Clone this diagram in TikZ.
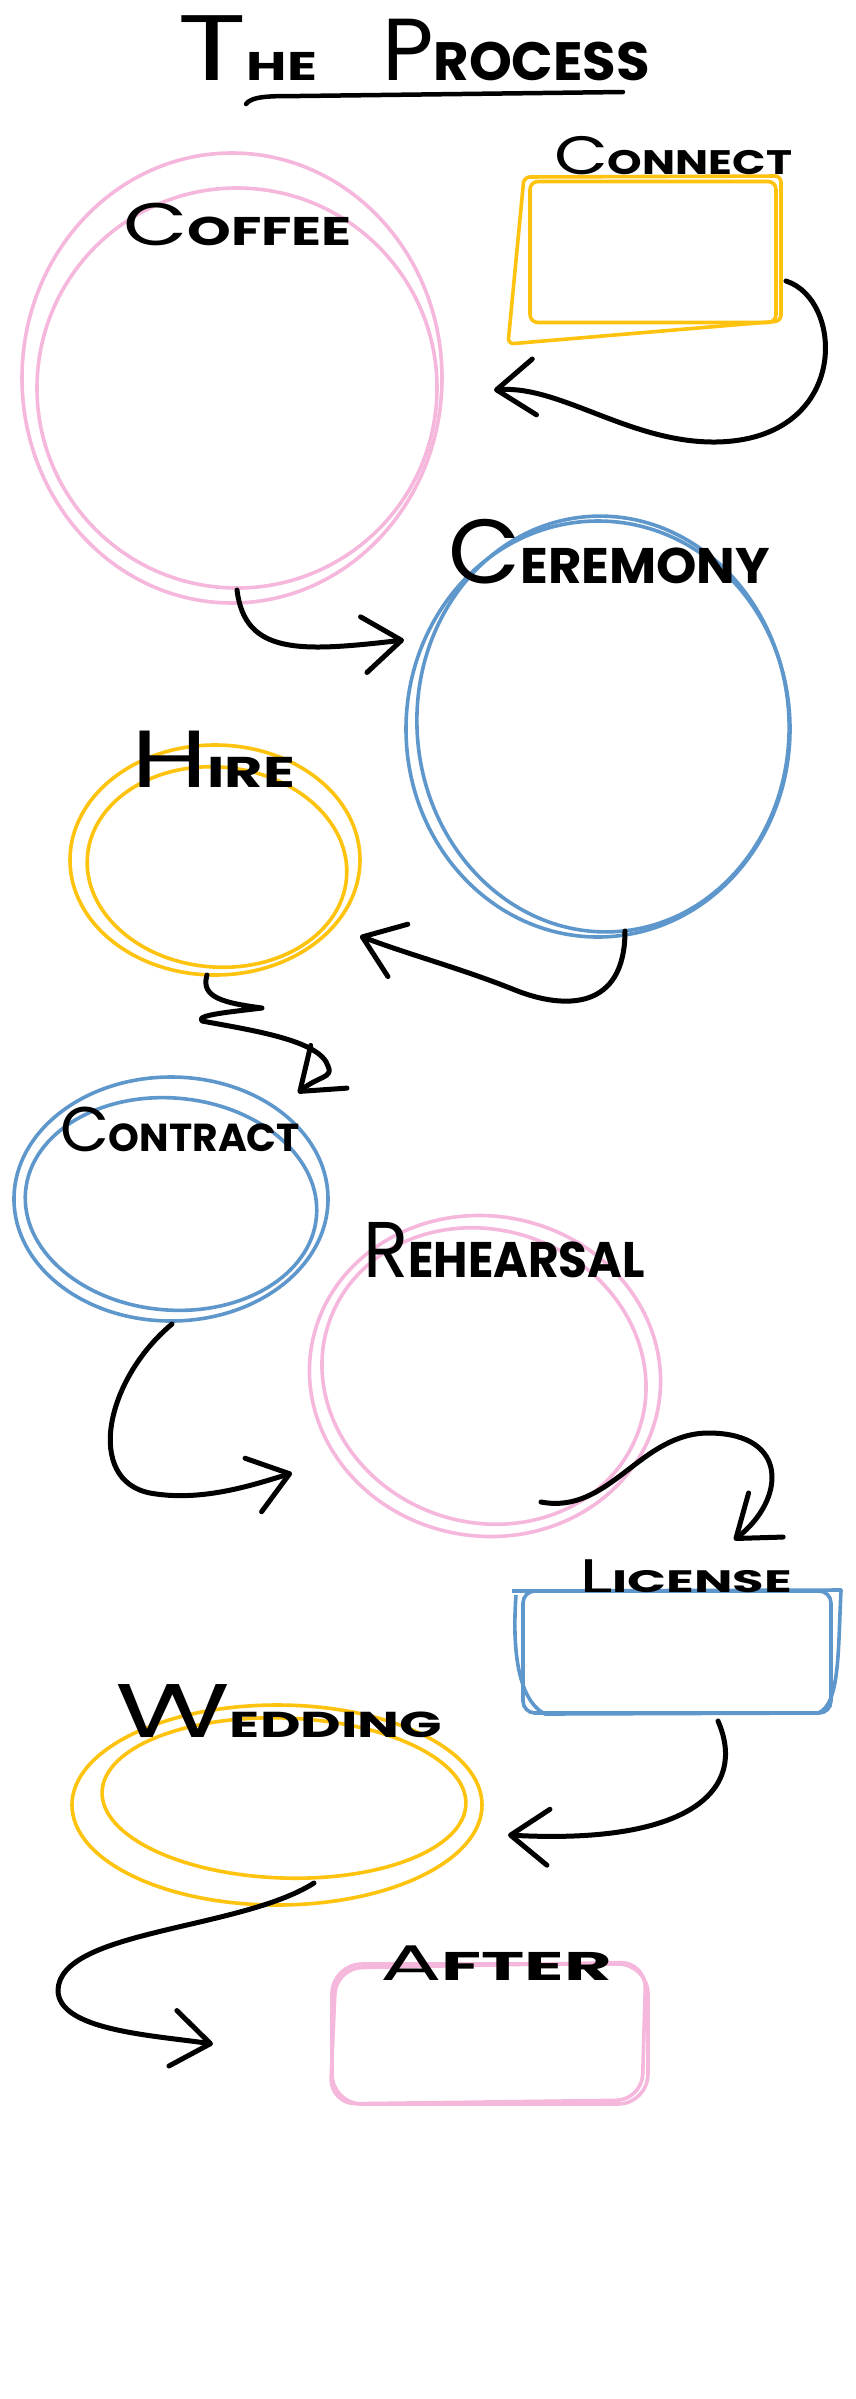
\documentclass[tikz,border=0pt]{standalone}
\usepackage{graphicx}
\usepackage{fontspec}
\setmainfont{Poppins}
\usetikzlibrary{shapes.geometric,arrows.meta}
\definecolor{skpink}{RGB}{245,184,220}
\definecolor{skyellow}{RGB}{253,195,15}
\definecolor{skblue}{RGB}{94,151,203}
% hand-lettered small caps: big letter, rest, big size, small size, target width
\newcommand{\hand}[5]{\resizebox{#5pt}{\height}{\mdseries\fontsize{#3pt}{#3pt}\selectfont #1\bfseries\fontsize{#4pt}{#4pt}\selectfont #2}}
\tikzset{
  lab/.style={inner sep=0pt, outer sep=0pt, anchor=base west, text=black},
  pinkstroke/.style={draw=skpink, line width=3.6pt},
  yellowstroke/.style={draw=skyellow, line width=3.6pt},
  bluestroke/.style={draw=skblue, line width=3.6pt},
  oval/.style={ellipse, inner sep=0pt, outer sep=0pt},
  box/.style={rectangle, inner sep=0pt, outer sep=0pt},
  arr/.style={draw=black, line width=5pt, line cap=round, line join=round,
    -{Straight Barb[length=38pt,width=56pt,round]}},
}
\begin{document}
\begin{tikzpicture}[x=1pt,y=-1pt]
\fill[white] (0,0) rectangle (856,2399);
\useasboundingbox (0,0) rectangle (856,2399);

% title
\node[lab] (tThe) at (177,80) {\hand{T}{HE}{93}{40}{140}};
\node[lab] (tProcess) at (382,80) {\hand{P}{ROCESS}{88}{54}{268}};
\coordinate (ulA) at (246,104);
\coordinate (ulB) at (623,92);
\draw[line width=4.5pt, line cap=round] (ulA) .. controls (252,96) and (270,96) .. (300,96) -- (ulB);

% shapes
\node[oval, pinkstroke, minimum width=420pt, minimum height=450pt] (coffee) at (232,378) {};
\draw[pinkstroke, rotate around={-4:(237,388)}] (237,388) ellipse [x radius=200, y radius=200];

\node[box, yellowstroke, minimum width=246pt, minimum height=141pt, rounded corners=8pt] (connect) at (653,252) {};
\draw[yellowstroke, line join=round, rounded corners=6pt] (524,177) -- (781,176) -- (781,321) -- (508,344) -- cycle;

\node[oval, bluestroke, minimum width=384pt, minimum height=416pt] (ceremony) at (598,729) {};
\draw[bluestroke, rotate around={4:(603,724)}] (603,724) ellipse [x radius=186, y radius=208];

\node[oval, yellowstroke, minimum width=290pt, minimum height=230pt] (hire) at (215,860) {};
\draw[yellowstroke, rotate around={-5:(217,867)}] (217,867) ellipse [x radius=130, y radius=100];

\node[oval, bluestroke, minimum width=314pt, minimum height=244pt] (contract) at (171,1199) {};
\draw[bluestroke, rotate around={-5:(171,1204)}] (171,1204) ellipse [x radius=146, y radius=106];

\node[oval, pinkstroke, minimum width=352pt, minimum height=320pt, rotate=-10] (rehearsal) at (485,1376) {};
\draw[pinkstroke, rotate around={-20:(484,1376)}] (484,1376) ellipse [x radius=164, y radius=146];

\node[box, bluestroke, minimum width=308pt, minimum height=122pt, rounded corners=12pt] (license) at (677,1652) {};
\draw[bluestroke, line join=round] (512,1591) -- (841,1590) .. controls (838,1650) and (840,1705) .. (818,1713) -- (545,1714) .. controls (518,1700) and (512,1650) .. (516,1595);

\node[oval, yellowstroke, minimum width=410pt, minimum height=200pt] (wedding) at (277,1805) {};
\draw[yellowstroke, rotate around={-2:(284,1798)}] (284,1798) ellipse [x radius=182, y radius=80];

\node[box, pinkstroke, minimum width=316pt, minimum height=140pt, rounded corners=30pt] (after) at (490,2034) {};
\draw[pinkstroke, rounded corners=26pt] (336,1968) -- (646,1962) -- (642,2100) -- (330,2104) -- cycle;

% labels
\node[lab] (lCoffee) at (123,245) {\hand{C}{OFFEE}{60}{40}{229}};
\node[lab] (lConnect) at (554,174) {\hand{C}{ONNECT}{54}{34}{238}};
\node[lab] (lCeremony) at (448,583) {\hand{C}{EREMONY}{91}{50}{322}};
\node[lab] (lHire) at (131,787) {\hand{H}{IRE}{81}{43}{164}};
\node[lab] (lContract) at (60,1151) {\hand{C}{ONTRACT}{63}{39}{240}};
\node[lab] (lRehearsal) at (363,1277) {\hand{R}{EHEARSAL}{79}{50}{282}};
\node[lab] (lLicense) at (579,1592) {\hand{L}{ICENSE}{47}{31}{213}};
\node[lab] (lWedding) at (115,1737) {\hand{W}{EDDING}{76}{36}{327}};
\node[lab] (lAfter) at (380,1980) {\hand{A}{FTER}{50}{40}{232}};

% connector end points
\coordinate (c1s) at (786,281);  \coordinate (c1e) at (494,390);
\coordinate (c2s) at (237,590);  \coordinate (c2e) at (404,640);
\coordinate (c3s) at (625,931);  \coordinate (c3e) at (360,936);
\coordinate (c4s) at (207,975);  \coordinate (c4e) at (298,1093);
\coordinate (c5s) at (172,1324); \coordinate (c5e) at (292,1473);
\coordinate (c6s) at (541,1502); \coordinate (c6e) at (734,1540);
\coordinate (c7s) at (718,1721); \coordinate (c7e) at (508,1835);
\coordinate (c8s) at (314,1883); \coordinate (c8e) at (213,2044);

% connectors
\draw[arr] (c1s) .. controls (845,300) and (850,440) .. (716,442) .. controls (630,443) and (560,385) .. (c1e);
\draw[arr] (c2s) .. controls (245,655) and (300,652) .. (c2e);
\draw[arr] (c3s) .. controls (625,1010) and (565,1010) .. (515,990) .. controls (460,968) and (410,955) .. (c3e);
\draw[arr] (c4s) .. controls (200,998) and (225,1003) .. (262,1008) .. controls (230,1012) and (195,1015) .. (202,1021) .. controls (250,1030) and (320,1040) .. (328,1066) .. controls (334,1078) and (318,1076) .. (c4e);
\draw[arr] (c5s) .. controls (105,1380) and (85,1480) .. (150,1493) .. controls (200,1502) and (250,1486) .. (c5e);
\draw[arr] (c6s) .. controls (610,1515) and (640,1432) .. (710,1433) .. controls (790,1434) and (785,1500) .. (c6e);
\draw[arr] (c7s) .. controls (748,1790) and (690,1845) .. (c7e);
\draw[arr] (c8s) .. controls (240,1930) and (60,1930) .. (58,1990) .. controls (58,2030) and (150,2035) .. (c8e);
\end{tikzpicture}
\end{document}
